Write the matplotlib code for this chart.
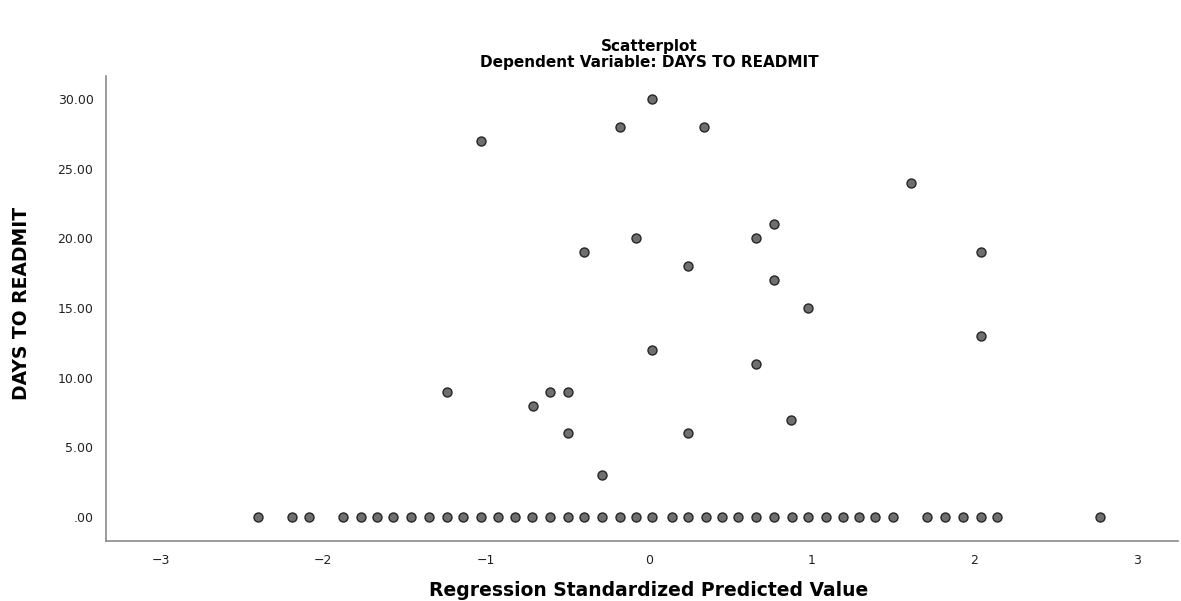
import matplotlib
matplotlib.use("Agg")
import matplotlib.pyplot as plt

# Datos (valor predicho estandarizado vs. días hasta reingreso)
zero_x = [-2.40, -2.19, -2.09, -1.88, -1.77, -1.67, -1.57, -1.46, -1.35, -1.24,
          -1.14, -1.03, -0.93, -0.82, -0.72, -0.61, -0.50, -0.40, -0.29, -0.18,
          -0.08, 0.02, 0.14, 0.24, 0.35, 0.45, 0.55, 0.66, 0.77, 0.88,
          0.98, 1.09, 1.19, 1.29, 1.39, 1.50, 1.71, 1.82, 1.93, 2.04,
          2.14, 2.77]
zero_y = [0.0] * len(zero_x)

pos_x = [0.02, -0.18, 0.34, -1.03, 1.61, 0.77, -0.08, 0.66, -0.40, 2.04,
         0.24, 0.77, 0.98, 2.04, 0.02, 0.66, -1.24, -0.61, -0.50, -0.71,
         0.87, -0.50, 0.24, -0.29]
pos_y = [30, 28, 28, 27, 24, 21, 20, 20, 19, 19,
         18, 17, 15, 13, 12, 11, 9, 9, 9, 8,
         7, 6, 6, 3]

x_ticks = [-3, -2, -1, 0, 1, 2, 3]
x_labels = ["\u22123", "\u22122", "\u22121", "0", "1", "2", "3"]
y_ticks = [0, 5, 10, 15, 20, 25, 30]
y_labels = [".00", "5.00", "10.00", "15.00", "20.00", "25.00", "30.00"]

W, H = 1181, 601
fig = plt.figure(figsize=(W / 100, H / 100), dpi=100)
ax = fig.add_axes([106 / W, 1 - 541 / H, (1178 - 106) / W, (541 - 76) / H])

xs = zero_x + pos_x
ys = zero_y + pos_y
ax.scatter(xs, ys, s=42, facecolor="#6f6f6f", edgecolor="#262626",
           linewidths=1.0, zorder=3, clip_on=False)

ax.set_xlim(-3.335, 3.25)
ax.set_ylim(-1.72, 31.66)
ax.set_xticks(x_ticks)
ax.set_xticklabels(x_labels)
ax.set_yticks(y_ticks)
ax.set_yticklabels(y_labels)
ax.tick_params(length=0, labelsize=9, colors="#222222", pad=9)
ax.tick_params(axis="x", pad=9)

for side in ["top", "right"]:
    ax.spines[side].set_visible(False)
for side in ["left", "bottom"]:
    ax.spines[side].set_color("#8a8a8a")
    ax.spines[side].set_linewidth(1.2)

fig.text(649 / W, 1 - 46 / H, "Scatterplot", ha="center", va="center",
         fontsize=11, fontweight="bold")
fig.text(649 / W, 1 - 63 / H, "Dependent Variable: DAYS TO READMIT",
         ha="center", va="center", fontsize=11, fontweight="bold")
fig.text(649 / W, 1 - 590 / H, "Regression Standardized Predicted Value",
         ha="center", va="center", fontsize=13.5, fontweight="bold")
fig.text(22 / W, 1 - 303 / H, "DAYS TO READMIT", ha="center", va="center",
         rotation=90, fontsize=13.5, fontweight="bold")

fig.savefig("out.png", dpi=100, facecolor="white")
